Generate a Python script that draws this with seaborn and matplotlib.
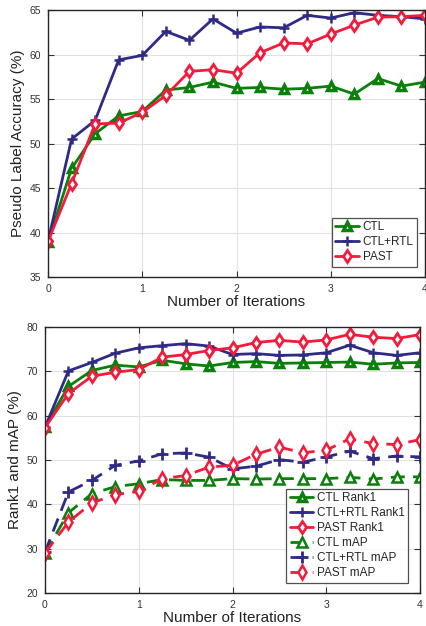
import numpy as np
import pandas as pd
import matplotlib
matplotlib.use('Agg')
import matplotlib.pyplot as plt
import seaborn as sns

# iterations
iters = [0, 0.25, 0.5, 0.75, 1, 1.25, 1.5, 1.75, 2, 2.25, 2.5, 2.75, 3, 3.25, 3.5, 3.75, 4]

# pseudo label accuracy (top)
acc_ctl = [38.9, 47.2, 51.1, 53.1, 53.6, 56.0, 56.3, 56.9, 56.2, 56.3, 56.1, 56.2, 56.45, 55.55, 57.3, 56.45, 56.9]
acc_ctl_rtl = [39.0, 50.5, 52.6, 59.4, 59.9, 62.6, 61.6, 64.0, 62.4, 63.1, 63.0, 64.4, 64.1, 64.7, 64.4, 64.25, 64.0]
acc_past = [39.0, 45.5, 52.2, 52.3, 53.5, 55.4, 58.1, 58.3, 57.9, 60.2, 61.3, 61.2, 62.3, 63.3, 64.2, 64.25, 64.4]

# rank1 / mAP (bottom)
r1_ctl = [57.5, 66.6, 70.2, 71.4, 71.0, 72.5, 71.7, 71.2, 72.0, 72.2, 71.8, 71.9, 72.0, 72.1, 71.6, 71.9, 72.0]
r1_ctl_rtl = [57.4, 70.1, 72.0, 74.1, 75.3, 75.8, 76.25, 75.7, 73.8, 74.0, 73.6, 73.7, 74.2, 75.9, 74.2, 73.6, 74.2]
r1_past = [57.3, 65.0, 68.9, 69.8, 70.4, 73.2, 73.8, 74.7, 75.3, 76.5, 77.0, 76.6, 77.1, 78.35, 77.7, 77.4, 78.3]
map_ctl = [29.0, 38.1, 42.4, 44.0, 44.65, 45.6, 45.4, 45.4, 45.8, 45.7, 45.8, 45.8, 45.8, 46.1, 45.7, 46.2, 46.2]
map_ctl_rtl = [29.2, 42.8, 45.4, 48.8, 49.8, 51.4, 51.6, 50.65, 48.0, 48.6, 50.1, 49.5, 50.7, 52.0, 50.3, 50.9, 50.7]
map_past = [29.0, 36.0, 40.3, 42.2, 42.9, 45.8, 46.5, 48.4, 48.8, 51.3, 52.9, 51.65, 52.2, 54.8, 53.7, 53.5, 54.6]

green = '#0a7f0a'
blue = '#2f2a85'
red = '#f41a3c'

sns.set_theme(style='whitegrid')
plt.rcParams['font.family'] = ['Liberation Sans', 'DejaVu Sans']

fig = plt.figure(figsize=(4.26, 6.26), dpi=100)
ax1 = fig.add_axes([0.1127, 0.5575, 0.885, 0.4265])
ax2 = fig.add_axes([0.1056, 0.0527, 0.8804, 0.4249])


def draw(ax, y, color, marker, label, dashed=False, ms=6, mew=1.6):
    sns.lineplot(x=iters, y=y, ax=ax, color=color, linewidth=2,
                 linestyle=(0, (5, 3)) if dashed else '-',
                 marker=marker, markersize=ms, markeredgewidth=mew,
                 markerfacecolor='white', markeredgecolor=color, label=label)


draw(ax1, acc_ctl, green, '^', 'CTL', ms=6, mew=2.5)
draw(ax1, acc_ctl_rtl, blue, '+', 'CTL+RTL', ms=7, mew=1.8)
draw(ax1, acc_past, red, 'd', 'PAST', ms=6, mew=2.0)

draw(ax2, r1_ctl, green, '^', 'CTL Rank1', ms=6, mew=2.5)
draw(ax2, r1_ctl_rtl, blue, '+', 'CTL+RTL Rank1', ms=7, mew=1.8)
draw(ax2, r1_past, red, 'd', 'PAST Rank1', ms=6, mew=2.0)
draw(ax2, map_ctl, green, '^', 'CTL mAP', dashed=True, ms=7.5, mew=1.8)
draw(ax2, map_ctl_rtl, blue, '+', 'CTL+RTL mAP', dashed=True, ms=8.5, mew=2.0)
draw(ax2, map_past, red, 'd', 'PAST mAP', dashed=True, ms=7.5, mew=1.8)

for ax, ylim, yticks, ylabel in [
        (ax1, (35, 65), [35, 40, 45, 50, 55, 60, 65], 'Pseudo Label Accuracy (%)'),
        (ax2, (20, 80), [20, 30, 40, 50, 60, 70, 80], 'Rank1 and mAP (%)')]:
    ax.set_xlim(0, 4)
    ax.set_ylim(*ylim)
    ax.set_xticks([0, 1, 2, 3, 4])
    ax.set_yticks(yticks)
    ax.set_xlabel('Number of Iterations', fontsize=11, labelpad=1, color='#222222')
    ax.set_ylabel(ylabel, fontsize=11, labelpad=3, color='#222222')
    ax.tick_params(axis='both', labelsize=7.5, direction='in', length=4,
                   top=True, right=True, bottom=True, left=True,
                   colors='#333333', width=0.8, pad=5)
    ax.grid(True, color='#e2e2e2', linewidth=0.8)
    for s in ax.spines.values():
        s.set_visible(True)
        s.set_color('#262626')
        s.set_linewidth(1.0)
    ax.set_facecolor('white')

leg1 = ax1.legend(loc='lower right', bbox_to_anchor=(0.985, 0.03), fontsize=8.5,
                  frameon=True, fancybox=False, edgecolor='#262626',
                  handlelength=2.0, handletextpad=0.3, borderpad=0.3,
                  labelspacing=0.25, borderaxespad=0.2)
leg1.get_frame().set_linewidth(0.9)
leg2 = ax2.legend(loc='lower right', bbox_to_anchor=(0.975, 0.03), fontsize=8.5,
                  frameon=True, fancybox=False, edgecolor='#262626',
                  handlelength=2.0, handletextpad=0.3, borderpad=0.3,
                  labelspacing=0.25, borderaxespad=0.2)
leg2.get_frame().set_linewidth(0.9)

fig.savefig('out.png', dpi=100, facecolor='white')
